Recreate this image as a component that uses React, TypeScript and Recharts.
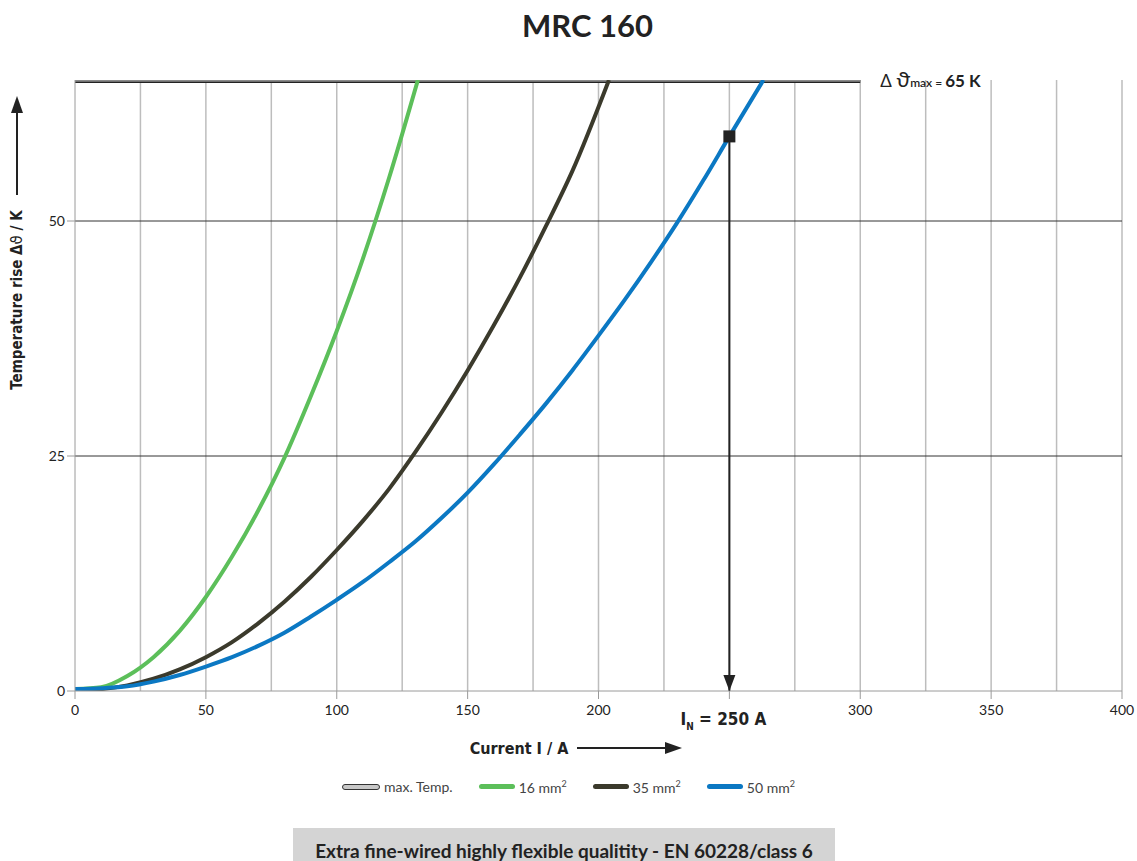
import React from "react";
import { LineChart, Line, XAxis, YAxis, ReferenceLine } from "recharts";

// cross section 16 mm²
const green16 = [
  { x: 0, y: 0.2 }, { x: 10, y: 0.4 }, { x: 20, y: 1.6 }, { x: 30, y: 3.6 },
  { x: 40, y: 6.4 }, { x: 50, y: 10 }, { x: 60, y: 14.3 }, { x: 70, y: 19.2 },
  { x: 80, y: 24.8 }, { x: 90, y: 31.3 }, { x: 100, y: 38.3 }, { x: 110, y: 46 },
  { x: 120, y: 54.6 }, { x: 131, y: 65 },
];

// cross section 35 mm²
const dark35 = [
  { x: 0, y: 0.1 }, { x: 10, y: 0.2 }, { x: 20, y: 0.6 }, { x: 30, y: 1.3 },
  { x: 40, y: 2.3 }, { x: 50, y: 3.6 }, { x: 60, y: 5.2 }, { x: 70, y: 7.2 },
  { x: 80, y: 9.5 }, { x: 90, y: 12.1 }, { x: 100, y: 15 }, { x: 110, y: 18.1 },
  { x: 120, y: 21.5 }, { x: 130, y: 25.4 }, { x: 140, y: 29.6 }, { x: 150, y: 34.1 },
  { x: 160, y: 38.9 }, { x: 170, y: 44 }, { x: 180, y: 49.5 }, { x: 190, y: 55.3 },
  { x: 204, y: 65 },
];

// cross section 50 mm²
const blue50 = [
  { x: 0, y: 0.2 }, { x: 10, y: 0.3 }, { x: 20, y: 0.5 }, { x: 30, y: 1.0 },
  { x: 40, y: 1.7 }, { x: 50, y: 2.6 }, { x: 60, y: 3.6 }, { x: 70, y: 4.8 },
  { x: 80, y: 6.2 }, { x: 90, y: 7.9 }, { x: 100, y: 9.7 }, { x: 110, y: 11.6 },
  { x: 120, y: 13.7 }, { x: 130, y: 15.9 }, { x: 140, y: 18.4 }, { x: 150, y: 21.1 },
  { x: 160, y: 24.1 }, { x: 170, y: 27.3 }, { x: 180, y: 30.6 }, { x: 190, y: 34.1 },
  { x: 200, y: 37.8 }, { x: 210, y: 41.6 }, { x: 220, y: 45.6 }, { x: 230, y: 49.8 },
  { x: 240, y: 54.3 }, { x: 250, y: 59 }, { x: 263, y: 65 },
];

const maxTemp = [{ x: 0, y: 65 }, { x: 300, y: 65 }];
const ratedCurrent = [{ x: 250, y: 59 }, { x: 250, y: 0 }];
const RATED = 250;

const xTicks = [0, 50, 100, 150, 200, 250, 300, 350, 400];
const xGrid = [25, 50, 75, 100, 125, 150, 175, 200, 225, 250, 275, 300, 325, 350, 375, 400];
const yTicks = [0, 25, 50];

const legendItems = [
  { name: "max. Temp.", color: "#c8c8c8", outline: true },
  { name: "16 mm²", color: "#5cbf5a" },
  { name: "35 mm²", color: "#3b3a2c" },
  { name: "50 mm²", color: "#0b78c3" },
];

const sans = "Lato, 'Open Sans', sans-serif";
const narrow = "'Liberation Sans Narrow', 'DejaVu Sans Condensed', sans-serif";
const greek = "'DejaVu Sans', sans-serif";

const MaxLabel = (props: any) => {
  const { x, y, index } = props;
  if (index !== 1) return null;
  return (
    <text x={x + 20} y={y + 7} fontFamily={sans} fill="#222">
      <tspan fontSize={17}>Δ </tspan>
      <tspan fontSize={22}>ϑ</tspan>
      <tspan fontSize={12} fontWeight={600}>max = </tspan>
      <tspan fontSize={17} fontWeight={700}>65 K</tspan>
    </text>
  );
};

const ArrowDot = (props: any) => {
  const { cx, cy, index } = props;
  if (index === 0) {
    return <rect key="sq" x={cx - 6} y={cy - 6} width={12} height={12} fill="#222" />;
  }
  return <path key="tip" d={`M${cx - 6},${cy - 16} L${cx + 6},${cy - 16} L${cx},${cy} Z`} fill="#222" />;
};

const XTick = (props: any) => {
  const { x, y, payload } = props;
  if (payload.value === RATED) {
    return (
      <text x={x - 6} y={y + 24} textAnchor="middle" fontFamily={narrow} fontWeight={700} fontSize={17} fill="#222">
        I<tspan fontSize={10} dy={5}>N</tspan>
        <tspan dy={-5}> = 250 A</tspan>
      </text>
    );
  }
  return (
    <text x={x} y={y + 14} textAnchor="middle" fontFamily={sans} fontSize={14} fill="#222">
      {payload.value}
    </text>
  );
};

const YLabel = () => (
  <g>
    <text
      transform="translate(22,300) rotate(-90)"
      textAnchor="middle"
      fontFamily={narrow}
      fontWeight={700}
      fontSize={15}
      fill="#222"
    >
      Temperature rise Δ<tspan fontFamily={greek} fontWeight={400}>ϑ</tspan> / K
    </text>
    <line x1={17} y1={195} x2={17} y2={110} stroke="#222" strokeWidth={2} />
    <path d="M11,113 L23,113 L17,96 Z" fill="#222" />
  </g>
);

const XLabel = () => (
  <g>
    <text x={519} y={754} textAnchor="middle" fontFamily={narrow} fontWeight={700} fontSize={16} fill="#222">
      Current I / A
    </text>
    <line x1={577} y1={748} x2={668} y2={748} stroke="#222" strokeWidth={2} />
    <path d="M665,742 L665,754 L682,748 Z" fill="#222" />
  </g>
);

export default function App() {
  return (
    <div style={{ position: "absolute", left: 0, top: 0, width: 1137, height: 861, background: "#fff" }}>
      <div
        style={{
          position: "absolute",
          left: 0,
          width: 1175,
          top: 6,
          textAlign: "center",
          fontFamily: sans,
          fontWeight: 700,
          fontSize: 31,
          color: "#222",
        }}
      >
        MRC 160
      </div>
      <LineChart
        width={1137}
        height={861}
        margin={{ top: 80, right: 15, bottom: 140, left: 15 }}
        style={{ position: "absolute", left: 0, top: 0 }}
      >
        {xGrid.map((v) => (
          <ReferenceLine key={"gx" + v} x={v} stroke="#bdbdbd" strokeWidth={1.5} />
        ))}
        <ReferenceLine y={25} stroke="#333" strokeWidth={1} />
        <ReferenceLine y={50} stroke="#333" strokeWidth={1} />
        <XAxis
          type="number"
          dataKey="x"
          domain={[0, 400]}
          ticks={xTicks}
          interval={0}
          height={30}
          stroke="#9a9a9a"
          tickLine={{ stroke: "#9a9a9a" }}
          tickSize={8}
          tick={<XTick />}
          allowDataOverflow
        />
        <YAxis
          type="number"
          dataKey="y"
          domain={[0, 65]}
          ticks={yTicks}
          width={60}
          stroke="#9a9a9a"
          tickLine={{ stroke: "#9a9a9a" }}
          tickSize={8}
          tick={{ fill: "#222", fontSize: 14, fontFamily: sans }}
          allowDataOverflow
        />
        <Line
          data={maxTemp}
          dataKey="y"
          stroke="#222"
          strokeWidth={6}
          dot={false}
          isAnimationActive={false}
          label={<MaxLabel />}
        />
        <Line data={maxTemp} dataKey="y" stroke="#8a8a8a" strokeWidth={3.5} dot={false} isAnimationActive={false} />
        <Line data={green16} dataKey="y" type="monotone" stroke="#5cbf5a" strokeWidth={4} dot={false} isAnimationActive={false} />
        <Line data={dark35} dataKey="y" type="monotone" stroke="#3b3a2c" strokeWidth={4} dot={false} isAnimationActive={false} />
        <Line data={blue50} dataKey="y" type="monotone" stroke="#0b78c3" strokeWidth={4} dot={false} isAnimationActive={false} />
        <Line
          data={ratedCurrent}
          dataKey="y"
          stroke="#222"
          strokeWidth={2}
          dot={<ArrowDot />}
          isAnimationActive={false}
        />
        <YLabel />
        <XLabel />
      </LineChart>
      <div
        style={{
          position: "absolute",
          top: 778,
          left: 0,
          width: 1137,
          display: "flex",
          justifyContent: "center",
          gap: 26,
          fontFamily: sans,
          fontSize: 14,
          color: "#444",
        }}
      >
        {legendItems.map((it) => (
          <div key={it.name} style={{ display: "flex", alignItems: "center", gap: 4 }}>
            <span
              style={{
                display: "inline-block",
                width: 36,
                height: it.outline ? 4 : 5,
                borderRadius: 3,
                background: it.color,
                border: it.outline ? "1.5px solid #333" : "none",
              }}
            />
            <span>
              {it.name.replace("²", "")}
              {it.name.includes("²") ? <sup style={{ fontSize: 9 }}>2</sup> : null}
            </span>
          </div>
        ))}
      </div>
      <div
        style={{
          position: "absolute",
          left: 293,
          top: 828,
          width: 542,
          height: 40,
          background: "#d4d4d4",
          textAlign: "center",
          fontFamily: sans,
          fontWeight: 700,
          fontSize: 19,
          color: "#222",
          lineHeight: "46px",
          whiteSpace: "nowrap",
        }}
      >
        Extra fine-wired highly flexible qualitity - EN 60228/class 6
      </div>
    </div>
  );
}
